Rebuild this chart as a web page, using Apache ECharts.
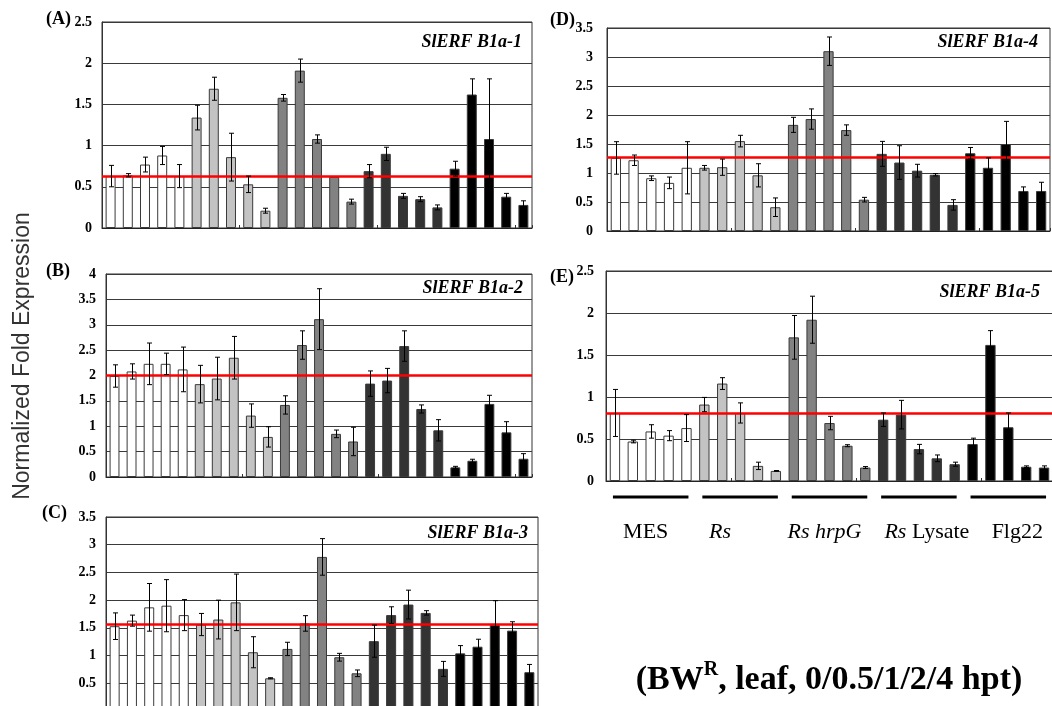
<!DOCTYPE html>
<html>
<head>
<meta charset="utf-8">
<script src="https://cdn.jsdelivr.net/npm/echarts@6/dist/echarts.min.js"></script>
<style>
  html, body { margin: 0; padding: 0; background: #ffffff; }
  #chart { width: 1052px; height: 706px; }
</style>
</head>
<body>
<div id="chart"></div>
<script>
// Treatments and sampling times (hours post treatment)
const treatments = ['MES', 'Rs', 'Rs hrpG', 'Rs Lysate', 'Flg22'];
const timePoints = ['0', '0.5', '1', '2', '4'];
const categories = [];
treatments.forEach(t => timePoints.forEach(h => categories.push(t + ' ' + h + ' hpt')));

const genes = ['SlERF B1a-1', 'SlERF B1a-2', 'SlERF B1a-3', 'SlERF B1a-4', 'SlERF B1a-5'];
const panelTags = ['(A)', '(B)', '(C)', '(D)', '(E)'];
const axisMax = [2.5, 4, 3.5, 3.5, 2.5];

// Normalized fold expression (mean) and error per sample
const b1a1 = [0.63, 0.64, 0.77, 0.88, 0.63, 1.34, 1.69, 0.86, 0.53, 0.21, 1.58, 1.91, 1.08, 0.62, 0.32, 0.69, 0.90, 0.39, 0.35, 0.25, 0.72, 1.62, 1.08, 0.38, 0.28];
const b1a1Err = [0.13, 0.02, 0.09, 0.11, 0.14, 0.15, 0.14, 0.29, 0.10, 0.03, 0.04, 0.14, 0.05, 0, 0.03, 0.08, 0.08, 0.03, 0.03, 0.03, 0.09, 0.19, 0.73, 0.04, 0.05];

const b1a2 = [1.99, 2.08, 2.23, 2.23, 2.12, 1.83, 1.94, 2.35, 1.21, 0.79, 1.42, 2.60, 3.11, 0.85, 0.70, 1.84, 1.90, 2.58, 1.34, 0.92, 0.19, 0.32, 1.44, 0.88, 0.36];
const b1a2Err = [0.22, 0.15, 0.41, 0.21, 0.44, 0.37, 0.42, 0.42, 0.23, 0.20, 0.18, 0.28, 0.60, 0.075, 0.28, 0.25, 0.24, 0.30, 0.08, 0.21, 0.02, 0.03, 0.17, 0.21, 0.10];

const b1a3 = [1.53, 1.63, 1.87, 1.90, 1.73, 1.56, 1.65, 1.96, 1.06, 0.59, 1.12, 1.58, 2.78, 0.97, 0.68, 1.26, 1.73, 1.92, 1.77, 0.76, 1.04, 1.16, 1.55, 1.45, 0.70];
const b1a3Err = [0.24, 0.10, 0.43, 0.47, 0.28, 0.20, 0.35, 0.51, 0.28, 0.01, 0.12, 0.14, 0.33, 0.07, 0.06, 0.29, 0.15, 0.26, 0.04, 0.135, 0.14, 0.135, 0.44, 0.16, 0.14];

const b1a4 = [1.26, 1.22, 0.91, 0.83, 1.09, 1.09, 1.10, 1.55, 0.96, 0.41, 1.83, 1.93, 3.10, 1.74, 0.54, 1.33, 1.18, 1.04, 0.97, 0.45, 1.34, 1.09, 1.50, 0.69, 0.69];
const b1a4Err = [0.28, 0.09, 0.04, 0.10, 0.45, 0.04, 0.14, 0.10, 0.20, 0.16, 0.13, 0.175, 0.245, 0.09, 0.04, 0.215, 0.29, 0.11, 0.02, 0.09, 0.10, 0.17, 0.39, 0.07, 0.15];

const b1a5 = [0.81, 0.47, 0.59, 0.54, 0.63, 0.91, 1.16, 0.81, 0.18, 0.12, 1.71, 1.92, 0.69, 0.42, 0.16, 0.73, 0.79, 0.38, 0.27, 0.20, 0.44, 1.62, 0.64, 0.17, 0.16];
const b1a5Err = [0.28, 0.016, 0.08, 0.06, 0.16, 0.085, 0.07, 0.12, 0.044, 0.005, 0.26, 0.28, 0.08, 0.012, 0.012, 0.08, 0.17, 0.056, 0.04, 0.024, 0.07, 0.17, 0.17, 0.01, 0.02];

// Reference (red) line per gene
const baselines = [0.63, 2.0, 1.56, 1.28, 0.81];

const means = [b1a1, b1a2, b1a3, b1a4, b1a5];
const errors = [b1a1Err, b1a2Err, b1a3Err, b1a4Err, b1a5Err];

// Layout of the five panels
const grids = [
  { left: 102, top: 22, width: 430, height: 206 },
  { left: 106, top: 274, width: 426, height: 203 },
  { left: 106, top: 517, width: 432, height: 194 },
  { left: 607, top: 28, width: 443, height: 203 },
  { left: 606, top: 271, width: 447, height: 210 }
];
const labelMargin = [10, 10, 10, 14, 12];
const showZeroLabel = [true, true, false, true, true];
const treatmentColors = ['#ffffff', '#c3c3c3', '#828282', '#333333', '#000000'];

const serif = '"Liberation Serif", "Times New Roman", serif';

const chart = echarts.init(document.getElementById('chart'), null, { renderer: 'canvas' });

const xAxes = [], yAxes = [], series = [];
grids.forEach((g, k) => {
  Object.assign(g, {
    show: true, borderColor: '#333', borderWidth: 1, backgroundColor: '#fff',
    containLabel: false, outerBoundsMode: 'none'
  });
  xAxes.push({
    type: 'category', gridIndex: k, data: categories,
    axisLabel: { show: false },
    axisLine: { lineStyle: { color: '#222', width: 1 } },
    axisTick: { show: true, inside: true, length: 3, lineStyle: { color: '#333' } },
    splitLine: { show: false }
  });
  yAxes.push({
    type: 'value', gridIndex: k, min: 0, max: axisMax[k], interval: 0.5,
    axisLine: { show: true, lineStyle: { color: '#333' } },
    axisTick: { show: false },
    splitLine: { show: true, lineStyle: { color: '#3a3a3a', width: 1 } },
    axisLabel: {
      fontFamily: serif, fontWeight: 'bold', fontSize: 14, color: '#000',
      margin: labelMargin[k], showMinLabel: showZeroLabel[k]
    }
  });
  series.push({
    type: 'bar', xAxisIndex: k, yAxisIndex: k, barWidth: '58%', z: 2,
    data: means[k].map((v, i) => ({
      value: v,
      itemStyle: { color: treatmentColors[Math.floor(i / timePoints.length)] }
    })),
    itemStyle: { borderColor: '#3a3a3a', borderWidth: 1 },
    markLine: {
      silent: true, symbol: 'none', label: { show: false },
      lineStyle: { color: '#ff0000', width: 2.5, type: 'solid' },
      data: [{ yAxis: baselines[k] }]
    }
  });
  series.push({
    type: 'custom', xAxisIndex: k, yAxisIndex: k, z: 5,
    encode: { x: 0, y: 1 },
    data: means[k].map((v, i) => [i, v, errors[k][i]]),
    renderItem: (params, api) => {
      const i = api.value(0), v = api.value(1), e = api.value(2);
      if (!e) return null;
      const hi = api.coord([i, v + e]);
      const lo = api.coord([i, Math.max(0, v - e)]);
      const x = Math.round(hi[0]) + 0.5;
      const w = 2.5;
      const style = { stroke: '#000', lineWidth: 1 };
      return {
        type: 'group',
        children: [
          { type: 'line', shape: { x1: x, y1: hi[1], x2: x, y2: lo[1] }, style },
          { type: 'line', shape: { x1: x - w, y1: hi[1], x2: x + w, y2: hi[1] }, style },
          { type: 'line', shape: { x1: x - w, y1: lo[1], x2: x + w, y2: lo[1] }, style }
        ]
      };
    }
  });
});

chart.setOption({
  animation: false,
  backgroundColor: '#ffffff',
  grid: grids,
  xAxis: xAxes,
  yAxis: yAxes,
  series: series
});

// Text and decorations
const graphics = [];
const titlePos = [[522, 42], [523, 288], [528, 533], [1038, 42], [1040, 292]];
genes.forEach((name, k) => {
  graphics.push({
    type: 'text', x: titlePos[k][0], y: titlePos[k][1], z: 10,
    style: { text: name, align: 'right', verticalAlign: 'middle', fill: '#000',
      fontFamily: serif, fontStyle: 'italic', fontWeight: 'bold', fontSize: 18 }
  });
});
const tagPos = [[71, 19], [70, 271], [67, 513], [575, 20], [574, 277]];
panelTags.forEach((t, k) => {
  graphics.push({
    type: 'text', x: tagPos[k][0], y: tagPos[k][1], z: 10,
    style: { text: t, align: 'right', verticalAlign: 'middle', fill: '#000',
      fontFamily: serif, fontWeight: 'bold', fontSize: 18 }
  });
});
// shared y-axis title
graphics.push({
  type: 'text', x: 23, y: 356, rotation: Math.PI / 2, z: 10,
  style: { text: 'Normalized Fold Expression', align: 'center', verticalAlign: 'middle',
    fill: '#333', fontFamily: '"Liberation Sans", Arial, sans-serif', fontSize: 23 }
});

// Treatment brackets under panel (E), placed from its category axis
const groupLabels = ['{n|MES}', '{i|Rs}', '{i|Rs hrpG}', '{i|Rs}{n| Lysate}', '{n|Flg22}'];
const labelShift = [-5, -20, -5, 8, 9];
const n = timePoints.length;
treatments.forEach((t, g) => {
  const x0 = chart.convertToPixel({ xAxisIndex: 4 }, categories[g * n]);
  const x1 = chart.convertToPixel({ xAxisIndex: 4 }, categories[g * n + n - 1]);
  graphics.push({
    type: 'rect', z: 10,
    shape: { x: x0 - 2, y: 495.5, width: x1 - x0 + 4, height: 3 },
    style: { fill: '#000' }
  });
  graphics.push({
    type: 'text', x: (x0 + x1) / 2 + labelShift[g], y: 532, z: 10,
    style: {
      text: groupLabels[g], align: 'center', verticalAlign: 'middle',
      rich: {
        n: { fontFamily: serif, fontSize: 22, fill: '#000' },
        i: { fontFamily: serif, fontSize: 22, fontStyle: 'italic', fill: '#000' }
      }
    }
  });
});

// Experiment description
graphics.push({
  type: 'text', x: 829, y: 680, z: 10,
  style: {
    text: '{m|(BW}{s|R}{m|, leaf, 0/0.5/1/2/4 hpt)}', align: 'center', verticalAlign: 'middle',
    rich: {
      m: { fontFamily: serif, fontWeight: 'bold', fontSize: 34, lineHeight: 40, fill: '#000' },
      s: { fontFamily: serif, fontWeight: 'bold', fontSize: 20, lineHeight: 30, verticalAlign: 'top', fill: '#000' }
    }
  }
});

chart.setOption({ graphic: graphics });
</script>
</body>
</html>
